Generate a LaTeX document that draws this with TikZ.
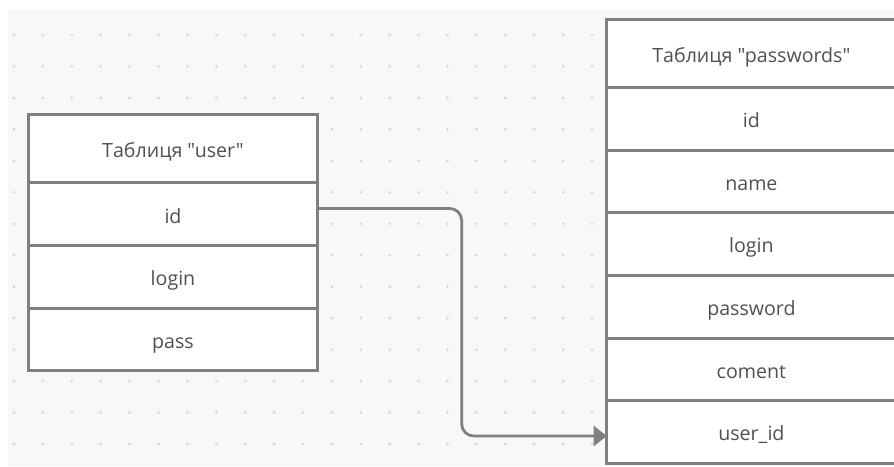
\documentclass[tikz,border=0pt]{standalone}
\usepackage{fontspec}
\newfontfamily\tblfont{Open Sans}
\usetikzlibrary{arrows.meta}
\definecolor{canvas}{HTML}{F8F8FA}
\definecolor{griddot}{HTML}{D6D6DB}
\definecolor{edge}{HTML}{808080}
\definecolor{ink}{HTML}{505050}
\begin{document}
\begin{tikzpicture}[x=1bp,y=-1bp,
  cell/.style={draw=edge, line width=3bp, fill=white, minimum width=289.4bp,
    inner sep=0pt, outer sep=0pt, text=ink,
    font=\tblfont\fontsize{19.6bp}{23bp}\selectfont,
    text height=17.6bp, text depth=0pt},
  headcell/.style={cell, minimum height=68.6bp},
  fieldcell/.style={cell, minimum height=62.6bp},
  link/.style={draw=edge, line width=2.8bp, rounded corners=12bp,
    -{Triangle[length=13bp,width=20bp]}}
]
\useasboundingbox (0,0) rectangle (894,467);
\clip (0,0) rectangle (894,467);

% dotted canvas
\fill[canvas] (8,10) rectangle (894,466);
\foreach \i in {0,...,20}
  \foreach \j in {0,...,13}
    \fill[griddot] (14+28.9*\i, 35+31.46*\j) circle[radius=1.5bp];

% table "user"
\node[headcell]  (u0) at (173,148.5) {Таблиця "user"};
\node[fieldcell] (u1) at (173,214.3) {id};
\node[fieldcell] (u2) at (173,276.9) {login};
\node[fieldcell] (u3) at (173,339.5) {pass};

% table "passwords"
\node[headcell]  (p0) at (751.4,53.5)  {Таблиця "passwords"};
\node[fieldcell] (p1) at (751.4,119.0) {id};
\node[fieldcell] (p2) at (751.4,181.6) {name};
\node[fieldcell] (p3) at (751.4,244.2) {login};
\node[fieldcell] (p4) at (751.4,306.8) {password};
\node[fieldcell] (p5) at (751.4,369.4) {coment};
\node[fieldcell] (p6) at (751.4,432.0) {user\_id};

% relation user.id -> passwords.user_id
\coordinate (elbow) at (461.7,320);
\draw[link] ([yshift=5.8bp]u1.east) -| (elbow) |- ([yshift=-4bp]p6.west);
\end{tikzpicture}
\end{document}
